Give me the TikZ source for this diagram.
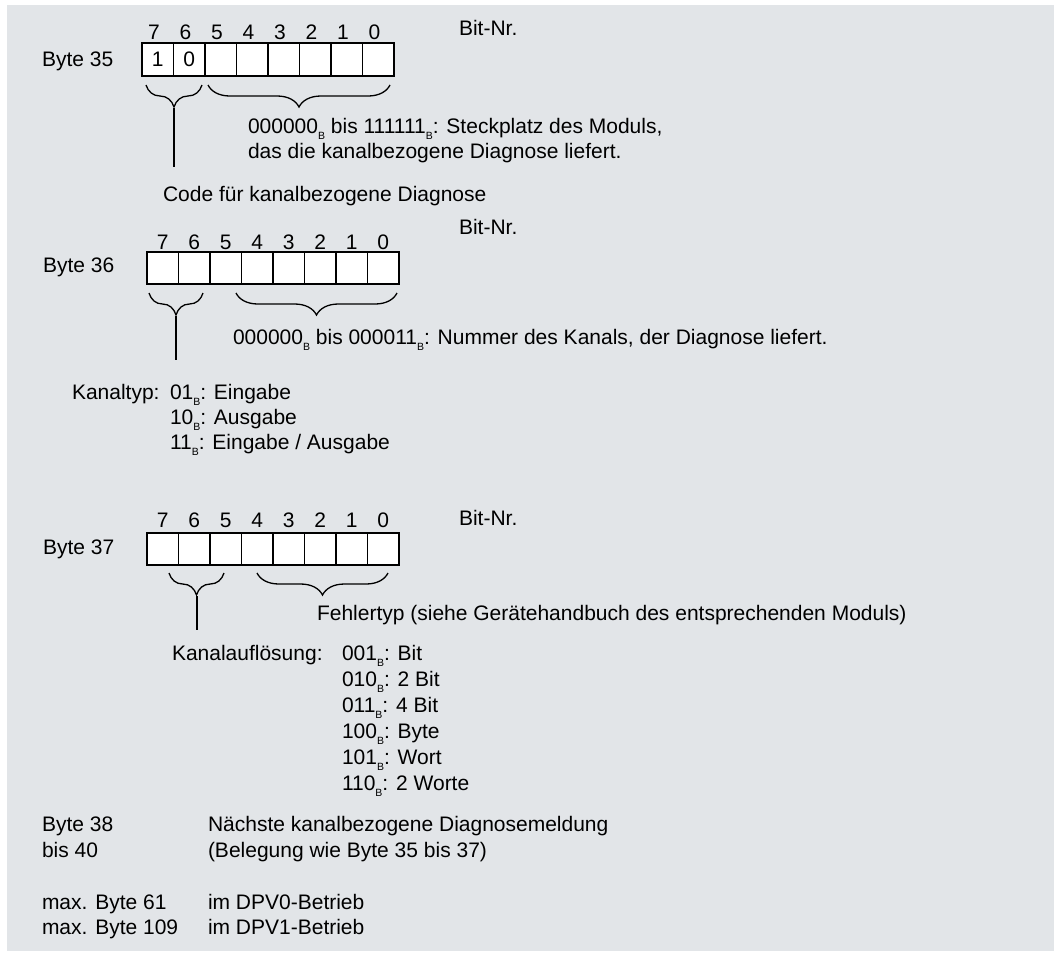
\documentclass[tikz,border=0pt]{standalone}
\usepackage{fontspec}
\setmainfont{Liberation Sans}
\usetikzlibrary{decorations.pathreplacing}
\definecolor{bggrey}{RGB}{226,229,232}
\newcommand{\subB}{\raisebox{-0.55ex}{\fontsize{10.5}{12}\selectfont B}}
\begin{document}
\begin{tikzpicture}[x=1pt,y=-1pt,
  every node/.style={inner sep=0pt, outer sep=0pt, font=\fontsize{21}{25}\selectfont},
  txt/.style={anchor=base west},
  bitnr/.style={anchor=base},
  cell/.style={draw, fill=white, minimum width=31.5pt, minimum height=33pt, line width=1.3pt},
  br/.style={decorate, decoration={brace, mirror, amplitude=22pt}, line width=1.3pt},
  lead/.style={line width=1.3pt}]
\useasboundingbox (0,0) rectangle (1054,956);
\fill[bggrey] (7,5) rectangle (1054,951);

% ---------- Byte 35 ----------
\node[txt] (l35) at (42,66.5) {Byte 35};
\node[txt] (bn35) at (459,35.5) {Bit-Nr.};
\foreach \i/\b/\v in {0/7/1,1/6/0,2/5/,3/4/,4/3/,5/2/,6/1/,7/0/}{
  \node[cell] (c35-\b) at ({142+15.75+\i*31.5},59.5) {\v};
  \node[bitnr] (n35-\b) at ({142+12+\i*31.5},39.5) {\b};
}
\draw[br] (146,85) -- (202,85);
\draw[br] (208,85) -- (390,85);
\coordinate (t35) at (174,108);
\coordinate (e35) at (174,167);
\draw[lead] (t35) -- (e35);
\node[txt] (s35a) at (248,133.5) {000000\subB\ bis 111111\subB: Steckplatz des Moduls,};
\node[txt] (s35b) at (248,158.5) {das die kanalbezogene Diagnose liefert.};
\node[txt] (k35) at (163,201) {Code für kanalbezogene Diagnose};

% ---------- Byte 36 ----------
\node[txt] (l36) at (43,272.5) {Byte 36};
\node[txt] (bn36) at (459,234.5) {Bit-Nr.};
\foreach \i/\b in {0/7,1/6,2/5,3/4,4/3,5/2,6/1,7/0}{
  \node[cell, minimum height=32pt] (c36-\b) at ({147+15.75+\i*31.5},268) {};
  \node[bitnr] (n36-\b) at ({147+15.75+\i*31.5},249.5) {\b};
}
\draw[br] (149,293) -- (203,293);
\draw[br] (236,293) -- (397,293);
\coordinate (t36) at (176,316);
\coordinate (e36) at (176,360);
\draw[lead] (t36) -- (e36);
\node[txt] (s36) at (233,344.5) {000000\subB\ bis 000011\subB: Nummer des Kanals, der Diagnose liefert.};
\node[txt] (kt) at (72,399.5) {Kanaltyp:};
\node[txt] (kt1) at (170,399.5) {01\subB: Eingabe};
\node[txt] (kt2) at (170,424.5) {10\subB: Ausgabe};
\node[txt] (kt3) at (170,449.5) {11\subB: Eingabe / Ausgabe};

% ---------- Byte 37 ----------
\node[txt] (l37) at (43,554.5) {Byte 37};
\node[txt] (bn37) at (459,525.5) {Bit-Nr.};
\foreach \i/\b in {0/7,1/6,2/5,3/4,4/3,5/2,6/1,7/0}{
  \node[cell, minimum height=32pt] (c37-\b) at ({147+15.75+\i*31.5},549) {};
  \node[bitnr] (n37-\b) at ({147+15.75+\i*31.5},527.5) {\b};
}
\draw[br] (169,573) -- (224,573);
\draw[br] (257,573) -- (388,573);
\coordinate (t37) at (197,596);
\coordinate (e37) at (197,630);
\draw[lead] (t37) -- (e37);
\node[txt] (s37) at (317,620.5) {Fehlertyp (siehe Gerätehandbuch des entsprechenden Moduls)};
\node[txt] (ka) at (172,660.5) {Kanalauflösung:};
\node[txt] (ka1) at (342,660.5) {001\subB: Bit};
\node[txt] (ka2) at (342,686.5) {010\subB: 2 Bit};
\node[txt] (ka3) at (342,712.5) {011\subB: 4 Bit};
\node[txt] (ka4) at (342,738.5) {100\subB: Byte};
\node[txt] (ka5) at (342,764.5) {101\subB: Wort};
\node[txt] (ka6) at (342,790.5) {110\subB: 2 Worte};

% ---------- Bottom ----------
\node[txt] (b38) at (42,831.5) {Byte 38};
\node[txt] (b40) at (42,857.5) {bis 40};
\node[txt] (b38t) at (208,831.5) {Nächste kanalbezogene Diagnosemeldung};
\node[txt] (b40t) at (208,857.5) {(Belegung wie Byte 35 bis 37)};
\node[txt] (m61) at (42,909.5) {max. Byte 61};
\node[txt] (m109) at (42,934.5) {max. Byte 109};
\node[txt] (m61t) at (208,909.5) {im DPV0-Betrieb};
\node[txt] (m109t) at (208,934.5) {im DPV1-Betrieb};
\end{tikzpicture}
\end{document}
